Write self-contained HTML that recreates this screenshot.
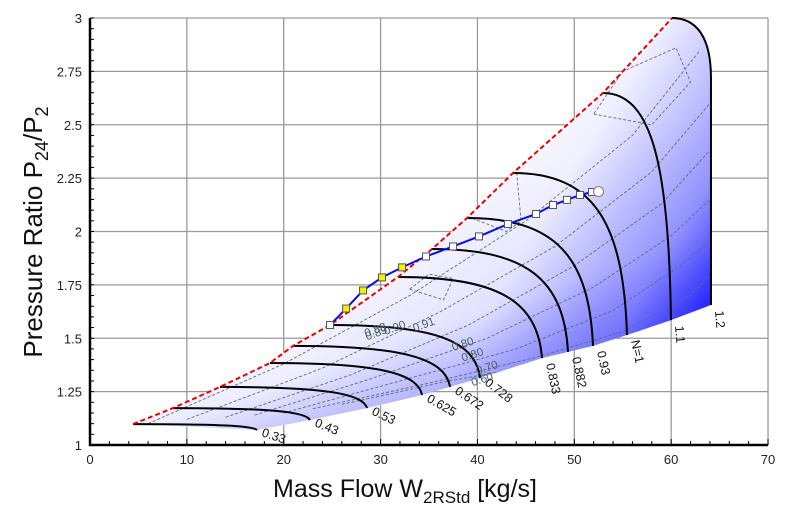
<!DOCTYPE html>
<html><head><meta charset="utf-8"><style>
html,body{margin:0;padding:0;background:#fff;}
svg{display:block;font-family:"Liberation Sans",sans-serif;}
</style></head><body>
<svg id="chart" width="800" height="519" viewBox="0 0 800 519">
<defs>
<linearGradient id="gA" gradientUnits="userSpaceOnUse" x1="430" y1="200" x2="510" y2="430">
<stop offset="0" stop-color="#ffffff"/><stop offset="0.5" stop-color="#eeeeff"/><stop offset="1" stop-color="#8a8aff"/></linearGradient>
<linearGradient id="gB" gradientUnits="userSpaceOnUse" x1="420" y1="150" x2="720" y2="330">
<stop offset="0" stop-color="#0000ff" stop-opacity="0"/><stop offset="0.4" stop-color="#2020ff" stop-opacity="0.06"/><stop offset="0.75" stop-color="#2020ff" stop-opacity="0.45"/><stop offset="1" stop-color="#0000ff" stop-opacity="0.95"/></linearGradient>
<clipPath id="regionClip"><path id="clipP" d=""/></clipPath>
</defs>
<g id="grid"></g>
<g id="plot"></g>
<g id="axes"></g>
<text x="405" y="497" text-anchor="middle" font-size="25" fill="#111">Mass Flow W<tspan font-size="17" dy="6">2RStd</tspan><tspan dy="-6"> [kg/s]</tspan></text>
<text transform="translate(42,232) rotate(-90)" text-anchor="middle" font-size="26" fill="#111">Pressure Ratio P<tspan font-size="18" dy="6">24</tspan><tspan dy="-6">/P</tspan><tspan font-size="18" dy="6">2</tspan></text>
</svg>
<script>
const xTicks=[0,10,20,30,40,50,60,70];
const yTicks=[1,1.25,1.5,1.75,2,2.25,2.5,2.75,3];
const yTickLabels=["1","1.25","1.5","1.75","2","2.25","2.5","2.75","3"];
const speedLabels=["0.33","0.43","0.53","0.625","0.672","0.728","0.833","0.882","0.93","N=1","1.1","1.2"];
const speedStartW=[4.44,8.57,13.42,18.58,20.96,24.78,31.80,35.31,38.92,43.67,52.96,60.09];
const speedStartPR=[1.098,1.173,1.272,1.384,1.464,1.562,1.787,1.918,2.063,2.274,2.649,3.0];
const speedEndW=[17.24,22.71,28.60,34.28,37.17,40.26,46.66,49.35,51.93,55.44,59.98,64.11];
const speedEndPR=[1.070,1.117,1.173,1.234,1.272,1.314,1.407,1.436,1.464,1.515,1.585,1.656];
const opW=[24.78,26.44,28.19,30.15,32.22,34.69,37.48,40.16,43.15,46.05,47.80,49.25,50.59,51.83];
const opPR=[1.562,1.639,1.724,1.785,1.832,1.883,1.930,1.977,2.035,2.082,2.124,2.148,2.171,2.185];
const opYellow=[false,true,true,true,true,false,false,false,false,false,false,false,false,false];
const opEndW=52.5, opEndPR=2.187;
const effW=[[6,20,33,45,56,63],[10,24,36,48,58,64],[14,27,39,50,59,64],[17,29,41,52,60,64],[20,32,44,54,61,64],[23,35,46,55,62,64],[26,37,47,56,62,64]];
const effPR=[[1.10,1.38,1.70,2.05,2.45,2.85],[1.12,1.36,1.62,1.93,2.28,2.60],[1.13,1.33,1.56,1.84,2.13,2.38],[1.14,1.31,1.50,1.74,1.98,2.15],[1.15,1.30,1.45,1.63,1.84,1.96],[1.17,1.29,1.41,1.53,1.70,1.80],[1.19,1.30,1.38,1.46,1.56,1.66]];
const loopW=[[52,58,62,60.5,55,52],[39,43,44.5,44,41,39],[33,36.5,37.5,35,33]];
const loopPR=[[2.55,2.50,2.70,2.86,2.75,2.55],[2.07,2.00,2.05,2.30,2.20,2.07],[1.73,1.68,1.78,1.80,1.73]];
const X=w=>90+w*9.686, Y=p=>445-(p-1)*213.5;
const NS='http://www.w3.org/2000/svg';
function mk(t,a,p){const e=document.createElementNS(NS,t);for(const k in a)e.setAttribute(k,a[k]);p.appendChild(e);return e;}
const grid=document.getElementById('grid'),plot=document.getElementById('plot'),axes=document.getElementById('axes');
xTicks.forEach((t,i)=>{const l=mk('line',{x1:X(t),x2:X(t),y1:Y(3),y2:Y(1),stroke:'#9a9a9a','stroke-width':1.3},grid);

const tx=mk('text',{x:X(t),y:464,'text-anchor':'middle','font-size':13,fill:'#222'},axes);tx.textContent=t;
});
yTicks.forEach((t,i)=>{const l=mk('line',{x1:X(0),x2:X(70),y1:Y(t),y2:Y(t),stroke:'#9a9a9a','stroke-width':1.3},grid);

const tx=mk('text',{x:82,y:Y(t)+5,'text-anchor':'end','font-size':13,fill:'#222'},axes);tx.textContent=yTickLabels[i];
});
for(let w=0;w<=70;w+=2){mk('line',{x1:X(w),x2:X(w),y1:445,y2:w%10?441:439,stroke:'#000'},axes);}
for(let p=1;p<=3.001;p+=0.05){mk('line',{x1:90,x2:94,y1:Y(p),y2:Y(p),stroke:'#000'},axes);}
const ax=mk('path',{d:'M90,18 V445 H768',fill:'none',stroke:'#000','stroke-width':2.5},axes);

// region
const n=speedLabels.length;
let d='M'+X(speedStartW[0])+','+Y(speedStartPR[0]);
for(let i=1;i<n;i++)d+=' L'+X(speedStartW[i])+','+Y(speedStartPR[i]);
const xr=X(speedEndW[n-1]);
d+=' Q'+xr+','+Y(3)+' '+xr+','+Y(2.75);
for(let i=n-1;i>=0;i--)d+=' L'+X(speedEndW[i])+','+Y(speedEndPR[i]);
d+=' Z';
document.getElementById('clipP').setAttribute('d',d);
const rA=mk('path',{d:d,fill:'url(#gA)'},plot);
const rB=mk('path',{d:d,fill:'url(#gB)'},plot);
const cg=mk('g',{'clip-path':'url(#regionClip)'},plot);


// efficiency contours
effW.forEach((ws,j)=>{let s='';ws.forEach((w,k)=>{s+=(k?' L':'M')+X(w)+','+Y(effPR[j][k]);});
const e=mk('path',{d:s,fill:'none',stroke:'#5a6e6e','stroke-width':0.9,'stroke-dasharray':'3,2'},cg);
});
loopW.forEach((ws,j)=>{let s='';ws.forEach((w,k)=>{s+=(k?' L':'M')+X(w)+','+Y(loopPR[j][k]);});
const e=mk('path',{d:s,fill:'none',stroke:'#5a6e6e','stroke-width':0.9,'stroke-dasharray':'3,2'},cg);
});
// speed lines
for(let i=0;i<n;i++){const xs=X(speedStartW[i]),ys=Y(speedStartPR[i]),xe=X(speedEndW[i]),ye=Y(speedEndPR[i]);
const dx=xe-xs,dy=ye-ys;
let p;
if(i==n-1){p=`M${xs},${ys} C${xs+25},${ys} ${xe},${ys+20} ${xe},${ys+60} L${xe},${ye}`;}
else p=`M${xs},${ys} C${xs+0.7*dx},${ys} ${xe-0.03*dx},${ys+0.3*dy} ${xe},${ye}`;
const e=mk('path',{d:p,fill:'none',stroke:'#000','stroke-width':2},plot);

const rot=i<6?18+i*4:(i<10?78:85);
const t=mk('text',{transform:`translate(${xe+4},${ye+6}) rotate(${rot})`,'font-size':12.5,fill:'#111'},plot);t.textContent=speedLabels[i];
}
// surge line
let sd='';for(let i=0;i<n;i++)sd+=(i?' L':'M')+X(speedStartW[i])+','+Y(speedStartPR[i]);
const sl=mk('path',{d:sd,fill:'none',stroke:'#e00','stroke-width':2,'stroke-dasharray':'5,3'},plot);

// efficiency labels
[["0.88",28.5,1.505,-20],["0.89",28.6,1.49,-20],["0.90",30.5,1.515,-20],["0.91",33.5,1.53,-20],["0.80",37.5,1.44,-18],["0.80",38.5,1.39,-18],["0.70",40,1.33,-18],["0.60",39.5,1.275,-18]].forEach(a=>{
const t=mk('text',{transform:`translate(${X(a[1])},${Y(a[2])}) rotate(${a[3]})`,'font-size':11.5,fill:'#4a6262'},plot);t.textContent=a[0];
});
// operating line
let od='';opW.forEach((w,k)=>{od+=(k?' L':'M')+X(w)+','+Y(opPR[k]);});od+=' L'+X(opEndW)+','+Y(opEndPR);
const ol=mk('path',{d:od,fill:'none',stroke:'#0010ee','stroke-width':2},plot);

opW.forEach((w,k)=>{const r=mk('rect',{x:X(w)-3.5,y:Y(opPR[k])-3.5,width:7,height:7,fill:opYellow[k]?'#f5f000':'#fff',stroke:'#555','stroke-width':1},plot);
});
const c=mk('circle',{cx:X(opEndW),cy:Y(opEndPR),r:5,fill:'#fff',stroke:'#888','stroke-width':1.2},plot);

</script>
</body></html>
